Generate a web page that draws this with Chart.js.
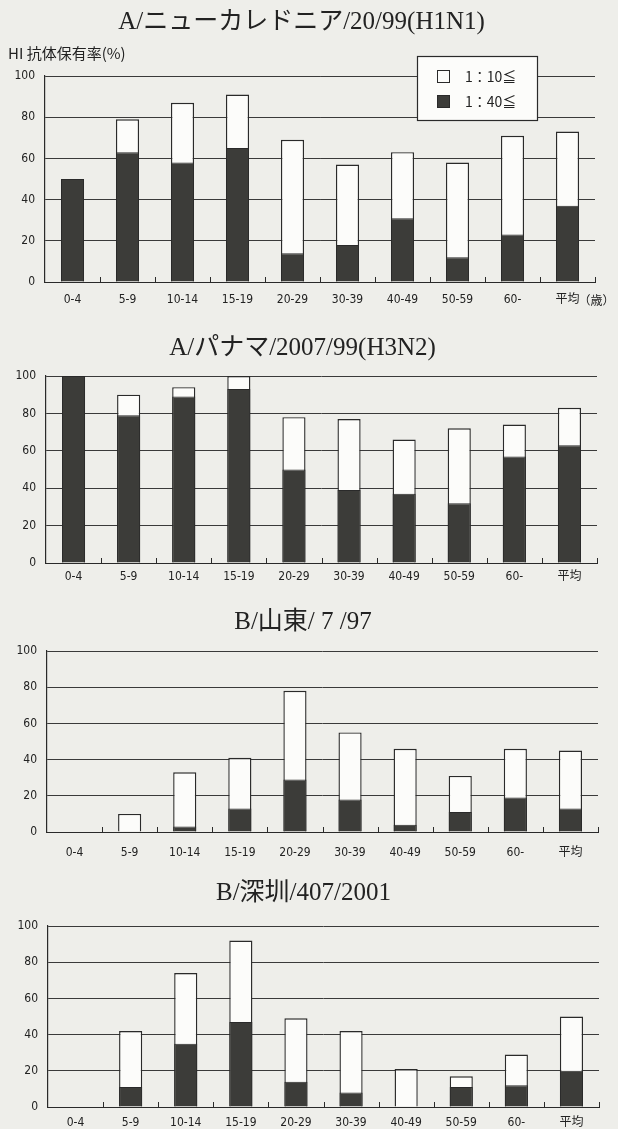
<!DOCTYPE html>
<html lang="ja">
<head>
<meta charset="utf-8">
<title>HI抗体保有率</title>
<script src="https://cdn.jsdelivr.net/npm/chart.js@4.4.1/dist/chart.umd.min.js"></script>
<style>
  html, body { margin: 0; padding: 0; background: #eeeeea; }
  #page { position: relative; width: 618px; height: 1129px; overflow: hidden; }
  .panel { position: absolute; left: 0; width: 618px; }
</style>
</head>
<body>
<div id="page">
  <div class="panel" style="top:0;height:312px;"><canvas id="g1"></canvas></div>
  <div class="panel" style="top:322px;height:263px;"><canvas id="g2"></canvas></div>
  <div class="panel" style="top:596px;height:266px;"><canvas id="g3"></canvas></div>
  <div class="panel" style="top:866px;height:263px;"><canvas id="g4"></canvas></div>
</div>
<script>
// データ（図から読み取った値, %）
const ageGroups = ["0-4", "5-9", "10-14", "15-19", "20-29", "30-39", "40-49", "50-59", "60-", "平均"];
const yTicks = [0, 20, 40, 60, 80, 100];
const legendLabels = ["1：10≦", "1：40≦"];

const h1n1Titer10 = [50, 79, 87, 91, 69, 57, 63, 58, 71, 73];
const h1n1Titer40 = [50, 63, 58, 65, 14, 18, 31, 12, 23, 37];

const h3n2Titer10 = [100, 90, 94, 100, 78, 77, 66, 72, 74, 83];
const h3n2Titer40 = [100, 79, 89, 93, 50, 39, 37, 32, 57, 63];

const shandongTiter10 = [0, 10, 33, 41, 78, 55, 46, 31, 46, 45];
const shandongTiter40 = [0, 0, 3, 13, 29, 18, 4, 11, 19, 13];

const shenzhenTiter10 = [0, 42, 74, 92, 49, 42, 21, 17, 29, 50];
const shenzhenTiter40 = [0, 11, 35, 47, 14, 8, 0, 11, 12, 20];

const ink = "#2a2a2a";
const darkFill = "#3c3c39";
const lightFill = "#fcfcfa";
const serif = "'Liberation Serif', 'DejaVu Serif', 'Noto Sans CJK JP', serif";
const narrow = "'Liberation Sans Narrow', 'DejaVu Sans Condensed', 'Noto Sans CJK JP', sans-serif";
const sans = "'Noto Sans CJK JP', 'Liberation Sans', sans-serif";

// 区切りの小さな目盛（軸から内側へ）
const boundaryTicks = {
  id: "boundaryTicks",
  afterDatasetsDraw(chart) {
    const x = chart.scales.x;
    const area = chart.chartArea;
    const ctx = chart.ctx;
    ctx.save();
    ctx.strokeStyle = ink;
    ctx.lineWidth = 1;
    ctx.beginPath();
    for (let i = 1; i <= ageGroups.length; i++) {
      const px = i < ageGroups.length
        ? (x.getPixelForValue(i - 1) + x.getPixelForValue(i)) / 2
        : area.right;
      ctx.moveTo(Math.round(px) + 0.5, area.bottom);
      ctx.lineTo(Math.round(px) + 0.5, area.bottom - 5);
    }
    ctx.stroke();
    ctx.restore();
  }
};

// 枠付き凡例（1枚目のみ）
const boxLegend = {
  id: "boxLegend",
  afterDraw(chart, args, opts) {
    if (!opts.show) return;
    const area = chart.chartArea;
    const ctx = chart.ctx;
    const bx = area.left + 372, by = area.top - 20, bw = 120, bh = 64;
    ctx.save();
    ctx.fillStyle = lightFill;
    ctx.fillRect(bx, by, bw, bh);
    ctx.strokeStyle = ink;
    ctx.lineWidth = 1.2;
    ctx.strokeRect(bx + 0.5, by + 0.5, bw, bh);
    const ds = [chart.data.datasets[1], chart.data.datasets[0]];
    ctx.font = "14px " + sans;
    ctx.textBaseline = "middle";
    ds.forEach((d, i) => {
      const sy = by + 14 + i * 25;
      ctx.fillStyle = d.backgroundColor;
      ctx.fillRect(bx + 20, sy, 13, 13);
      ctx.strokeStyle = ink;
      ctx.lineWidth = 1;
      ctx.strokeRect(bx + 20.5, sy + 0.5, 12, 12);
      ctx.fillStyle = "#222";
      ctx.fillText(d.label, bx + 48, sy + 7);
    });
    ctx.restore();
  }
};

// 「（歳）」の添え字
const ageUnit = {
  id: "ageUnit",
  afterDraw(chart, args, opts) {
    if (!opts.text) return;
    const x = chart.scales.x;
    const ctx = chart.ctx;
    ctx.save();
    ctx.font = "12px " + sans;
    ctx.fillStyle = "#222";
    ctx.textBaseline = "middle";
    ctx.textAlign = "left";
    ctx.fillText(opts.text, x.getPixelForValue(ageGroups.length - 1) + 11, x.top + opts.pad + 7);
    ctx.restore();
  }
};

function makeChart(id, p) {
  new Chart(document.getElementById(id), {
    type: "bar",
    data: {
      labels: ageGroups,
      datasets: [
        {
          label: legendLabels[1],
          data: p.titer40,
          backgroundColor: darkFill,
          borderColor: ink,
          borderWidth: 1,
          borderSkipped: "bottom",
          order: 0,
          barPercentage: 0.42,
          categoryPercentage: 1
        },
        {
          label: legendLabels[0],
          data: p.titer10,
          backgroundColor: lightFill,
          borderColor: ink,
          borderWidth: 1.4,
          borderSkipped: "bottom",
          order: 1,
          barPercentage: 0.42,
          categoryPercentage: 1
        }
      ]
    },
    options: {
      responsive: true,
      maintainAspectRatio: false,
      animation: false,
      layout: { padding: { left: 8, right: p.right, top: 0, bottom: 0 } },
      plugins: {
        legend: { display: false },
        tooltip: { enabled: false },
        title: {
          display: true,
          text: p.title,
          color: "#222",
          font: { family: serif, size: 25, weight: "normal", lineHeight: 1.2 },
          padding: { top: p.titleTop, bottom: p.titleBottom }
        },
        subtitle: {
          display: !!p.yTitle,
          text: p.yTitle || "",
          align: "start",
          color: "#222",
          font: { family: sans, size: 15, weight: "normal", lineHeight: 1.2 },
          padding: { top: 0, bottom: 14 }
        },
        boxLegend: { show: !!p.legend },
        ageUnit: { text: p.unit || "", pad: p.labelPad }
      },
      scales: {
        x: {
          stacked: true,
          grid: { display: false, drawTicks: false },
          border: { display: true, color: ink, width: 1 },
          ticks: {
            color: "#222",
            padding: p.labelPad,
            maxRotation: 0,
            autoSkip: false,
            font: { family: narrow, size: 12 }
          },
          afterFit: s => { s.height = p.xHeight; }
        },
        y: {
          stacked: false,
          min: 0,
          max: 100,
          afterBuildTicks: s => { s.ticks = yTicks.map(v => ({ value: v })); },
          grid: { color: "#3a3a3a", lineWidth: 1, drawTicks: false },
          border: { display: true, color: ink, width: 1.2 },
          ticks: {
            color: "#222",
            padding: 10,
            font: { family: narrow, size: 12 }
          },
          afterFit: s => { s.width = p.left - 8; }
        }
      }
    },
    plugins: [boundaryTicks, boxLegend, ageUnit]
  });
}

makeChart("g1", {
  title: "A/ニューカレドニア/20/99(H1N1)", yTitle: "HI 抗体保有率(%)",
  titer10: h1n1Titer10, titer40: h1n1Titer40,
  titleTop: 7, titleBottom: 7, left: 45, right: 23,
  xHeight: 30, labelPad: 11, legend: true, unit: "（歳）"
});
makeChart("g2", {
  title: "A/パナマ/2007/99(H3N2)",
  titer10: h3n2Titer10, titer40: h3n2Titer40,
  titleTop: 11, titleBottom: 13, left: 46, right: 21,
  xHeight: 22, labelPad: 7
});
makeChart("g3", {
  title: "B/山東/ 7 /97",
  titer10: shandongTiter10, titer40: shandongTiter40,
  titleTop: 11, titleBottom: 14, left: 47, right: 20,
  xHeight: 30, labelPad: 14
});
makeChart("g4", {
  title: "B/深圳/407/2001",
  titer10: shenzhenTiter10, titer40: shenzhenTiter40,
  titleTop: 12, titleBottom: 18, left: 48, right: 19,
  xHeight: 22, labelPad: 9
});
</script>
</body>
</html>
